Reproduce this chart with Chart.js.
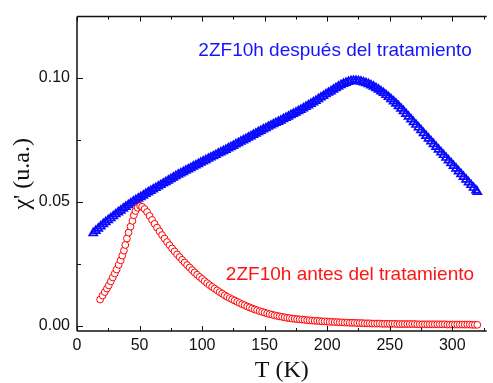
<!DOCTYPE html>
<html>
<head>
<meta charset="utf-8">
<script src="https://cdn.jsdelivr.net/npm/chart.js@4.4.1/dist/chart.umd.min.js"></script>
<style>
  html, body { margin: 0; padding: 0; background: #fff; }
</style>
</head>
<body>
<canvas id="chart" width="493" height="383"></canvas>
<script>
// Temperatures (K) and chi' (u.a.)
const blueT = [13, 15, 17, 19, 21, 23, 25, 27, 29, 31, 33, 35, 37, 39, 41, 43, 45, 47, 49, 51, 53, 55,
  57, 59, 61, 63, 65, 67, 69, 71, 73, 75, 77, 79, 81, 83, 85, 87, 89, 91, 93, 95, 97, 99,
  101, 103, 105, 107, 109, 111, 113, 115, 117, 119, 121, 123, 125, 127, 129, 131, 133, 135, 137, 139,
  141, 143, 145, 147, 149, 151, 153, 155, 157, 159, 161, 163, 165, 167, 169, 171, 173, 175, 177, 179,
  181, 183, 185, 187, 189, 191, 193, 195, 197, 199, 201, 203, 205, 207, 209, 211, 213, 215, 217, 219,
  221, 223, 225, 227, 229, 231, 233, 235, 237, 239, 241, 243, 245, 247, 249, 251, 253, 255, 257, 259,
  261, 263, 265, 267, 269, 271, 273, 275, 277, 279, 281, 283, 285, 287, 289, 291, 293, 295, 297, 299,
  301, 303, 305, 307, 309, 311, 313, 315, 317, 319, 320];
const blueChi = [0.0375, 0.0384, 0.0393, 0.0402, 0.0411, 0.0419, 0.0427, 0.0435, 0.0443, 0.0451, 0.0459, 0.0466, 0.0474, 0.0481, 0.0488, 0.0495, 0.0502, 0.0508, 0.0514, 0.0520, 0.0526, 0.0533,
  0.0539, 0.0545, 0.0551, 0.0557, 0.0563, 0.0569, 0.0575, 0.0581, 0.0587, 0.0593, 0.0599, 0.0605, 0.0611, 0.0616, 0.0621, 0.0627, 0.0632, 0.0637, 0.0643, 0.0648, 0.0653, 0.0659,
  0.0664, 0.0669, 0.0675, 0.0680, 0.0685, 0.0690, 0.0696, 0.0701, 0.0706, 0.0711, 0.0717, 0.0722, 0.0727, 0.0733, 0.0738, 0.0744, 0.0749, 0.0754, 0.0760, 0.0765,
  0.0771, 0.0776, 0.0782, 0.0787, 0.0793, 0.0798, 0.0804, 0.0809, 0.0814, 0.0819, 0.0824, 0.0829, 0.0835, 0.0840, 0.0845, 0.0851, 0.0856, 0.0861, 0.0867, 0.0872,
  0.0878, 0.0884, 0.0890, 0.0896, 0.0902, 0.0908, 0.0915, 0.0922, 0.0928, 0.0935, 0.0941, 0.0947, 0.0954, 0.0960, 0.0966, 0.0972, 0.0977, 0.0981, 0.0985, 0.0988,
  0.0989, 0.0989, 0.0988, 0.0986, 0.0983, 0.0980, 0.0976, 0.0971, 0.0966, 0.0960, 0.0954, 0.0947, 0.0940, 0.0932, 0.0924, 0.0915, 0.0906, 0.0897, 0.0887, 0.0877,
  0.0867, 0.0856, 0.0845, 0.0834, 0.0823, 0.0812, 0.0801, 0.0790, 0.0778, 0.0767, 0.0756, 0.0745, 0.0734, 0.0723, 0.0712, 0.0701, 0.0690, 0.0679, 0.0668, 0.0657,
  0.0646, 0.0635, 0.0624, 0.0613, 0.0602, 0.0591, 0.0580, 0.0569, 0.0558, 0.0547, 0.0541];

const redT = [18.5, 20.5, 22.2, 23.9, 25.4, 27.0, 28.6, 30.2, 31.7, 33.3, 34.9, 36.2, 37.5, 38.6, 39.9, 41.2, 42.8, 44.3, 45.4, 46.7, 48.5, 50.5,
  52, 54, 56, 58, 60, 62, 64, 66, 68, 70, 72, 74, 76, 78, 80, 82, 84, 86, 88, 90, 92, 94, 96, 98,
  100, 102, 104, 106, 108, 110, 112, 114, 116, 118, 120, 122, 124, 126, 128, 130, 132, 134, 136, 138,
  140, 142, 144, 146, 148, 150, 152, 154, 156, 158, 160, 162, 164, 166, 168, 170, 172, 174, 176, 178,
  180, 182, 184, 186, 188, 190, 192, 194, 196, 198, 200, 202, 204, 206, 208, 210, 212, 214, 216, 218,
  220, 222, 224, 226, 228, 230, 232, 234, 236, 238, 240, 242, 244, 246, 248, 250, 252, 254, 256, 258,
  260, 262, 264, 266, 268, 270, 272, 274, 276, 278, 280, 282, 284, 286, 288, 290, 292, 294, 296, 298,
  300, 302, 304, 306, 308, 310, 312, 314, 316, 318, 320];
const redChi = [0.0107, 0.0123, 0.0137, 0.0151, 0.0164, 0.0180, 0.0196, 0.0212, 0.0228, 0.0247, 0.0265, 0.0284, 0.0304, 0.0327, 0.0353, 0.0377, 0.0401, 0.0424, 0.0447, 0.0464, 0.0477, 0.0484,
  0.0481, 0.0472, 0.0460, 0.0444, 0.0428, 0.0412, 0.0397, 0.0382, 0.0367, 0.0353, 0.0339, 0.0326, 0.0313, 0.0301, 0.0289, 0.0278, 0.0267, 0.0256, 0.0246, 0.0236, 0.0226, 0.0216, 0.0207, 0.0198,
  0.0190, 0.0181, 0.0173, 0.0165, 0.0158, 0.0151, 0.0144, 0.0137, 0.0131, 0.0124, 0.0118, 0.0113, 0.0108, 0.0103, 0.0098, 0.0093, 0.0088, 0.0084, 0.0079, 0.0075,
  0.0071, 0.0067, 0.0064, 0.0060, 0.0057, 0.0054, 0.0051, 0.0048, 0.0046, 0.0043, 0.0041, 0.0039, 0.0037, 0.0035, 0.0033, 0.0032, 0.0030, 0.0029, 0.0028, 0.0027,
  0.0026, 0.0025, 0.0024, 0.0023, 0.0022, 0.0021, 0.0021, 0.0020, 0.0019, 0.0019, 0.0018, 0.0017, 0.0017, 0.0016, 0.0016, 0.0015, 0.0015, 0.0014, 0.0014, 0.0013,
  0.0013, 0.0013, 0.0012, 0.0012, 0.0012, 0.0011, 0.0011, 0.0011, 0.0010, 0.0010, 0.0010, 0.0010, 0.0009, 0.0009, 0.0009, 0.0009, 0.0009, 0.0009, 0.0008, 0.0008,
  0.0008, 0.0008, 0.0008, 0.0008, 0.0008, 0.0008, 0.0007, 0.0007, 0.0007, 0.0007, 0.0007, 0.0007, 0.0007, 0.0007, 0.0007, 0.0007, 0.0007, 0.0007, 0.0006, 0.0006,
  0.0006, 0.0006, 0.0006, 0.0006, 0.0006, 0.0006, 0.0006, 0.0006, 0.0005, 0.0005, 0.0005];

const xTicks = [0, 25, 50, 75, 100, 125, 150, 175, 200, 225, 250, 275, 300, 325];
const yTicks = [0, 0.025, 0.05, 0.075, 0.1];

const blueLabel = '2ZF10h después del tratamiento';
const redLabel = '2ZF10h antes del tratamiento';

const toPoints = (xs, ys) => xs.map((x, i) => ({ x, y: ys[i] }));
const isMajorX = v => v % 50 === 0;
const isMajorY = v => Math.abs(v / 0.05 - Math.round(v / 0.05)) < 1e-6;

// axes frame + inward ticks, plus the two curve labels
const framePlugin = {
  id: 'frame',
  afterDraw(chart) {
    const { ctx, chartArea: a, scales: { x, y } } = chart;
    ctx.save();
    ctx.strokeStyle = '#111';
    ctx.lineWidth = 1.5;
    ctx.beginPath();
    ctx.moveTo(a.left, a.top); ctx.lineTo(a.right, a.top);
    ctx.moveTo(a.left, a.top); ctx.lineTo(a.left, a.bottom);
    ctx.moveTo(a.left, a.bottom); ctx.lineTo(a.right, a.bottom);
    ctx.stroke();
    ctx.lineWidth = 1;
    ctx.beginPath();
    x.ticks.forEach(t => {
      const px = Math.round(x.getPixelForValue(t.value)) + 0.5;
      const len = isMajorX(t.value) ? 5 : 3;
      ctx.moveTo(px, a.bottom); ctx.lineTo(px, a.bottom - len);
      ctx.moveTo(px, a.top); ctx.lineTo(px, a.top + len);
    });
    y.ticks.forEach(t => {
      const py = Math.round(y.getPixelForValue(t.value)) + 0.5;
      const len = isMajorY(t.value) ? 6 : 4;
      ctx.moveTo(a.left, py); ctx.lineTo(a.left + len, py);
    });
    ctx.stroke();

    ctx.font = '19px "Liberation Sans", Arial, sans-serif';
    ctx.textBaseline = 'middle';
    ctx.textAlign = 'left';
    ctx.fillStyle = '#1414ff';
    ctx.fillText(blueLabel, x.getPixelForValue(97), y.getPixelForValue(0.1112));
    ctx.fillStyle = '#ff1414';
    ctx.fillText(redLabel, x.getPixelForValue(119), y.getPixelForValue(0.0208));
    ctx.restore();
  }
};

const tickFont = { family: '"Liberation Sans", Arial, sans-serif', size: 16 };
const titleFont = { family: '"Liberation Serif", "Times New Roman", serif', size: 24, lineHeight: 1 };

new Chart(document.getElementById('chart'), {
  type: 'scatter',
  data: {
    datasets: [
      {
        label: redLabel,
        data: toPoints(redT, redChi),
        pointStyle: 'circle',
        pointRadius: 3.4,
        borderWidth: 1,
        borderColor: '#ff0000',
        backgroundColor: '#ffffff'
      },
      {
        label: blueLabel,
        data: toPoints(blueT, blueChi),
        pointStyle: 'triangle',
        pointRadius: 4.6,
        borderWidth: 1.7,
        borderColor: '#0a0aff',
        backgroundColor: 'rgba(0,0,0,0)'
      }
    ]
  },
  options: {
    responsive: false,
    animation: false,
    layout: { padding: { top: 14, right: 0, left: 0, bottom: 0 } },
    plugins: { legend: { display: false }, tooltip: { enabled: false } },
    scales: {
      x: {
        type: 'linear',
        min: 0,
        max: 327.5,
        afterBuildTicks: s => { s.ticks = xTicks.map(v => ({ value: v })); },
        afterFit: s => { s.height = 52; },
        grid: { display: false, drawTicks: false },
        border: { display: false },
        ticks: {
          autoSkip: false,
          maxRotation: 0,
          padding: 5,
          color: '#111',
          font: tickFont,
          callback: v => isMajorX(v) ? String(v) : ''
        },
        title: { display: true, text: 'T (K)', color: '#111', font: titleFont, padding: 0 }
      },
      y: {
        type: 'linear',
        min: -0.002,
        max: 0.1248,
        afterBuildTicks: s => { s.ticks = yTicks.map(v => ({ value: v })); },
        afterFit: s => { s.width = 77; },
        grid: { display: false, drawTicks: false },
        border: { display: false },
        ticks: {
          autoSkip: false,
          padding: 7,
          color: '#111',
          font: tickFont,
          callback: v => isMajorY(v) ? v.toFixed(2) : ''
        },
        title: { display: true, text: "χ' (u.a.)", color: '#111', font: titleFont, padding: { top: 11, bottom: 0 } }
      }
    }
  },
  plugins: [framePlugin]
});
</script>
</body>
</html>
